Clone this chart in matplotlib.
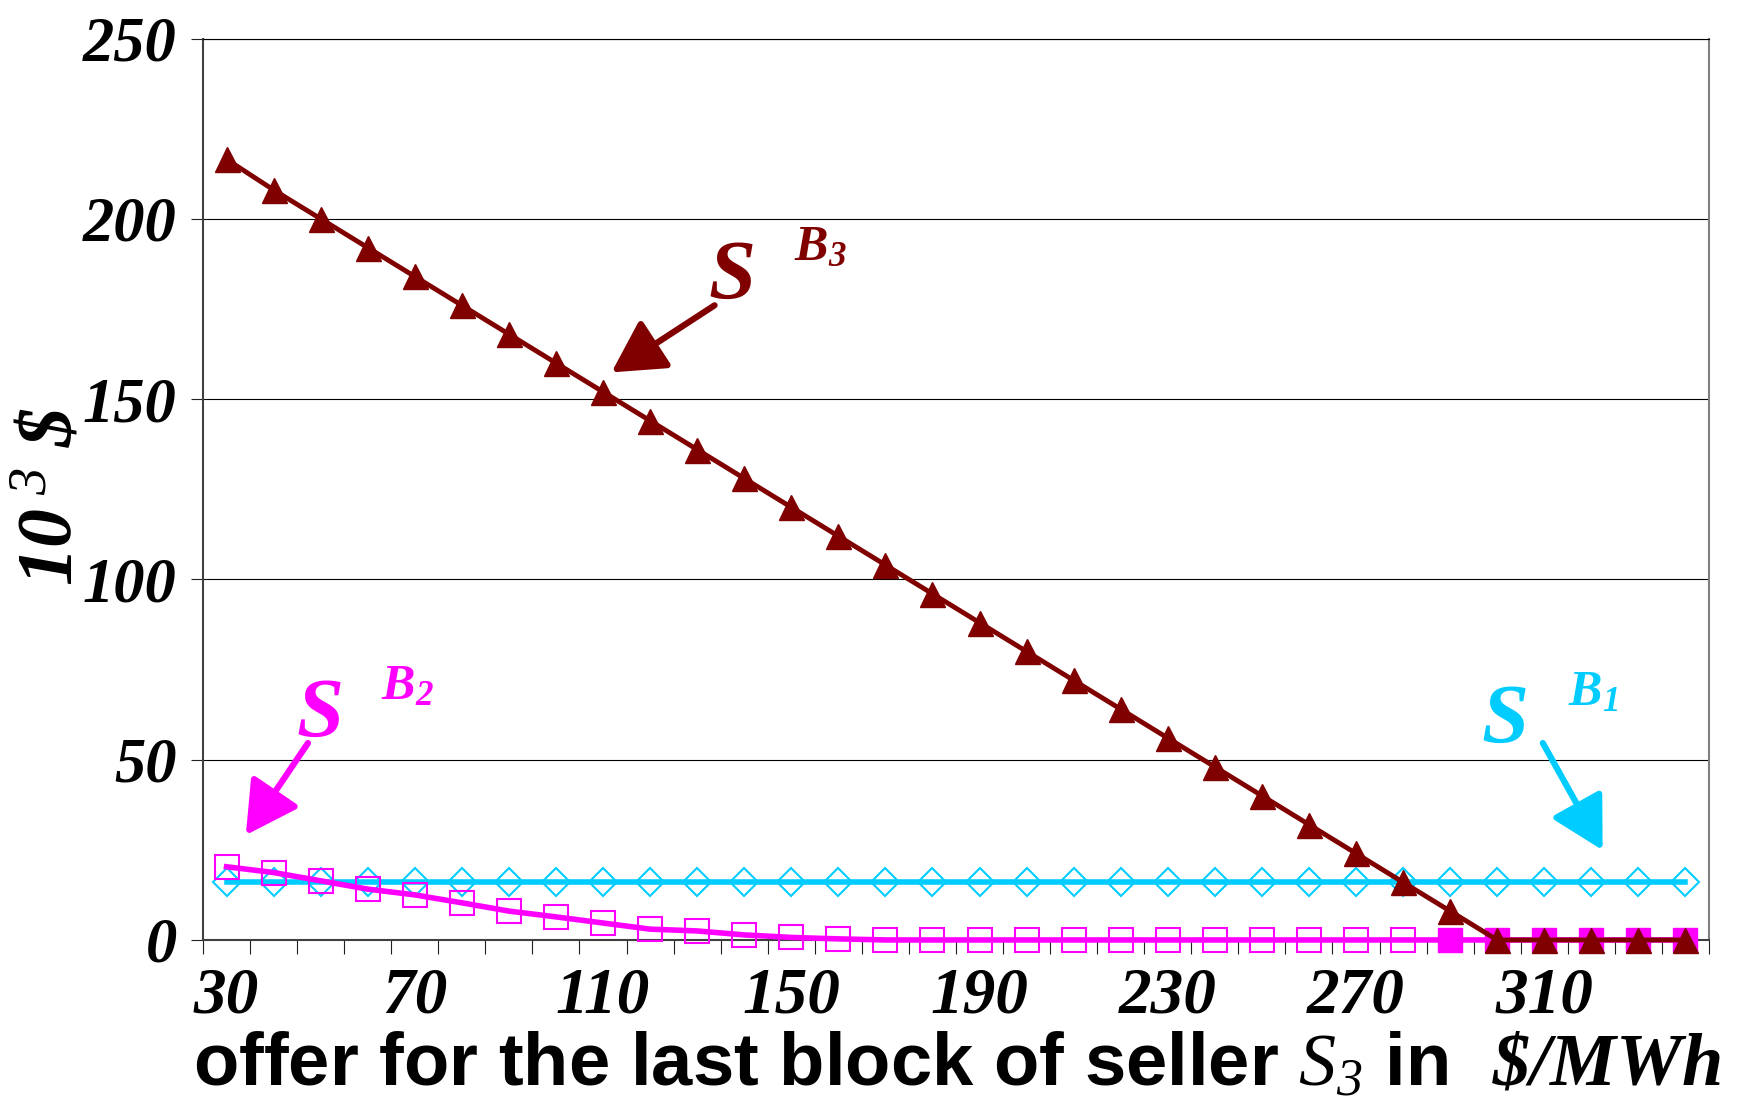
#!/usr/bin/env python3
"""
Surplus of the buyers vs. the offer for the last block of seller S3
"""
import numpy as np
import matplotlib
matplotlib.use('Agg')
import matplotlib.pyplot as plt
import matplotlib.transforms as mtransforms

# offer for the last block of seller S3 ($/MWh), one category per point
offers = [30, 40, 50, 60, 70, 80, 90, 100, 110, 120, 130, 140, 150, 160, 170, 180,
          190, 200, 210, 220, 230, 240, 250, 260, 270, 280, 290, 300, 310, 320, 330, 340]
tick_offers = [30, 70, 110, 150, 190, 230, 270, 310]

# surplus in 10^3 $
s_b1 = [16, 16, 16, 16, 16, 16, 16, 16, 16, 16, 16, 16, 16, 16, 16, 16,
        16, 16, 16, 16, 16, 16, 16, 16, 16, 16, 16, 16, 16, 16, 16, 16]
s_b2 = [20.3, 18.7, 16.4, 14.1, 12.5, 10.3, 8.0, 6.4, 4.7, 3.0, 2.5, 1.4, 0.7, 0.3, 0, 0,
        0, 0, 0, 0, 0, 0, 0, 0, 0, 0, 0, 0, 0, 0, 0, 0]
s_b3 = [216.5, 208, 200, 192, 184, 176, 168, 160, 152, 144, 136, 128, 120, 112, 104, 96,
        88, 80, 72, 64, 56, 48, 40, 32, 24, 16, 8, 0, 0, 0, 0, 0]

# S_B2 points drawn with filled squares (offer >= 290)
b2_filled_from = 290

# annotation anchors (category index, value)
labels = {
    'B3': {'color': '#800000', 'sub': '3', 's_pos': (10.24, 177.9), 'b_pos': (12.05, 188.5),
           'tail': (10.37, 176.0), 'tip': (8.18, 157.4)},
    'B2': {'color': '#ff00ff', 'sub': '2', 's_pos': (1.48, 56.3), 'b_pos': (3.28, 66.8),
           'tail': (1.73, 54.6), 'tip': (0.41, 29.1)},
    'B1': {'color': '#00ccff', 'sub': '1', 's_pos': (26.67, 54.6), 'b_pos': (28.5, 65.1),
           'tail': (27.97, 54.6), 'tip': (29.24, 24.9)},
}


def plot_surplus():
    # serif faces for the math parts of the labels
    plt.rcParams['mathtext.fontset'] = 'custom'
    plt.rcParams['mathtext.rm'] = 'Liberation Serif'
    plt.rcParams['mathtext.it'] = 'Liberation Serif:italic'
    plt.rcParams['mathtext.bf'] = 'Liberation Serif:bold'
    plt.rcParams['mathtext.sf'] = 'Liberation Serif:bold:italic'
    plt.rcParams['mathtext.cal'] = 'Liberation Serif:italic'

    fig = plt.figure(figsize=(17.38, 11), dpi=100)
    ax = fig.add_axes([0.1168, 0.1455, 0.8665, 0.8195])

    x = np.arange(len(offers))
    n_hollow = offers.index(b2_filled_from)

    # S_B1 - cyan diamonds
    ax.plot(x, s_b1, color='#00ccff', linewidth=4, marker='D', markersize=14,
            markerfacecolor='none', markeredgewidth=1.5, zorder=3, clip_on=False)
    # S_B2 - magenta squares
    ax.plot(x, s_b2, color='#ff00ff', linewidth=4, marker='s', markersize=17,
            markerfacecolor='none', markeredgewidth=1.5,
            markevery=list(range(n_hollow)), zorder=4, clip_on=False)
    ax.plot(x[n_hollow:], s_b2[n_hollow:], linestyle='none', marker='s', markersize=17,
            color='#ff00ff', zorder=4, clip_on=False)
    # S_B3 - dark red triangles
    ax.plot(x, s_b3, color='#800000', linewidth=3.5, marker='^', markersize=18,
            zorder=5, clip_on=False)

    # annotations S^{B_i} with arrows
    for key, lab in labels.items():
        c = lab['color']
        ax.text(*lab['s_pos'], 'S', color=c, fontfamily='Liberation Serif',
                fontstyle='italic', fontweight='bold', fontsize=61,
                ha='left', va='baseline', zorder=6)
        ax.text(*lab['b_pos'], r'$\mathsf{B_%s}$' % lab['sub'], color=c, fontsize=36,
                ha='left', va='baseline', zorder=6)
        ax.annotate('', xy=lab['tip'], xytext=lab['tail'],
                    arrowprops=dict(arrowstyle='-|>,head_length=0.4,head_width=0.22',
                                    mutation_scale=80, lw=4.5, color=c,
                                    shrinkA=0, shrinkB=0), zorder=6)

    # axes
    ax.set_xlim(-0.5, len(offers) - 0.5)
    ax.set_ylim(0, 250)
    ax.set_yticks(np.arange(0, 251, 50))
    ax.set_xticks([offers.index(v) for v in tick_offers])
    ax.set_xticklabels([str(v) for v in tick_offers])
    ax.set_xticks(np.arange(-0.5, len(offers), 1), minor=True)

    for lbl in ax.get_xticklabels():
        lbl.set_fontproperties(matplotlib.font_manager.FontProperties(
            family='Liberation Serif', style='italic', weight='bold', size=47))
        lbl.set_transform(lbl.get_transform() +
                          mtransforms.ScaledTranslation(9 / 100, 0, fig.dpi_scale_trans))
    for lbl in ax.get_yticklabels():
        lbl.set_fontproperties(matplotlib.font_manager.FontProperties(
            family='Liberation Serif', style='italic', weight='bold', size=45))

    ax.tick_params(axis='x', which='major', length=0, pad=19)
    ax.tick_params(axis='x', which='minor', length=10, width=0.8, direction='out',
                   color='#202020')
    ax.tick_params(axis='y', which='major', length=9, width=0.8, direction='out',
                   color='#202020', pad=10)

    ax.yaxis.grid(True, color='black', linewidth=0.8)
    ax.set_axisbelow(True)

    ax.spines['left'].set_color('#404040')
    ax.spines['left'].set_linewidth(1.5)
    ax.spines['bottom'].set_color('#404040')
    ax.spines['bottom'].set_linewidth(1.5)
    ax.spines['right'].set_color('#808080')
    ax.spines['right'].set_linewidth(1.5)
    ax.spines['top'].set_color('black')
    ax.spines['top'].set_linewidth(0.8)

    # axis titles
    fig.text(50 / 1738, 1 - 497 / 1100, r'$\mathsf{10}^{\ \mathcal{3}}\ \mathsf{\$}$',
             rotation=90, ha='center', va='center', fontsize=56)
    fig.text(0.5505, 0.0136,
             r'offer for the last block of seller $\mathcal{S_3}$ in  $\mathsf{\$/MWh}$',
             ha='center', va='baseline', fontfamily='Liberation Sans',
             fontweight='bold', fontsize=53.5)

    fig.savefig('out.png', dpi=100)
    plt.close(fig)


if __name__ == '__main__':
    plot_surplus()
